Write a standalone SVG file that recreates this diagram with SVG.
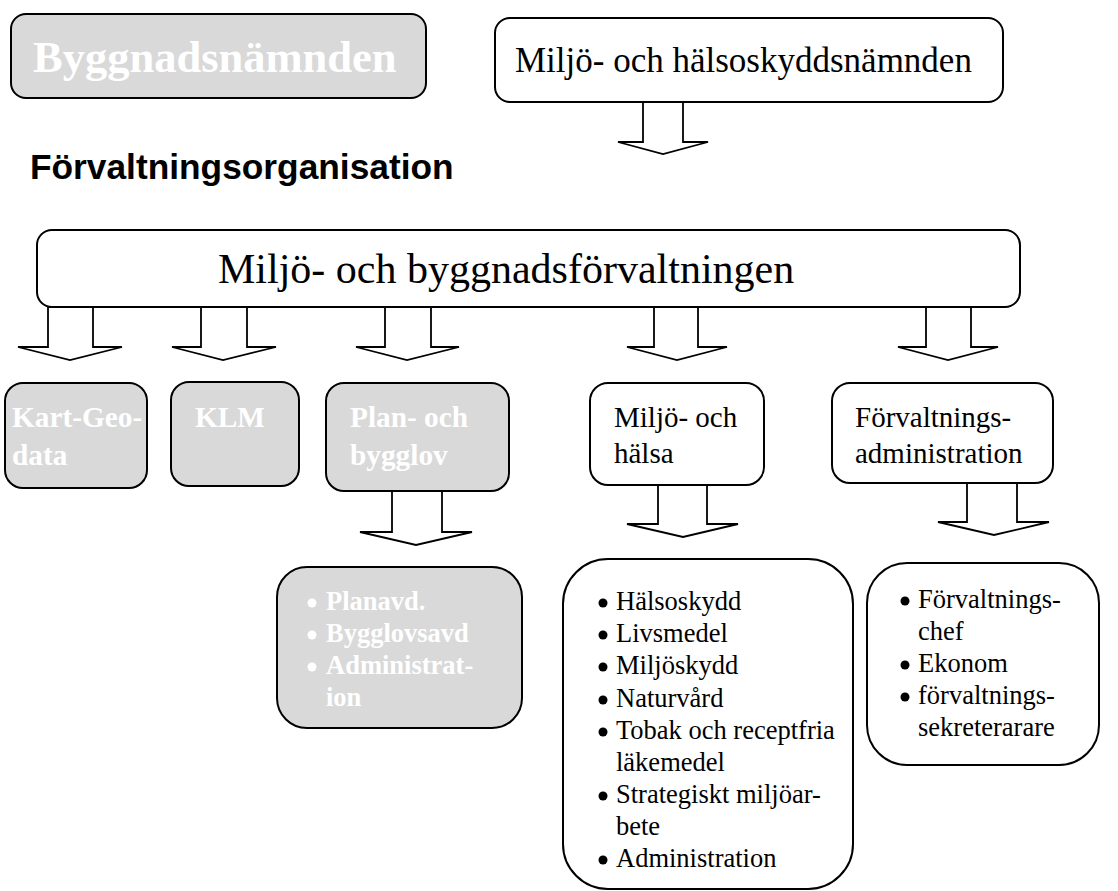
<svg xmlns="http://www.w3.org/2000/svg" width="1118" height="891" viewBox="0 0 1118 891">
<style>
.box{fill:#ffffff;stroke:#000;stroke-width:2}
.gbox{fill:#d9d9d9;stroke:#000;stroke-width:2}
.arr{fill:#ffffff;stroke:#000;stroke-width:1.8;stroke-linejoin:miter}
.t{font-family:"Liberation Serif","Times New Roman",serif;fill:#000}
.w{font-family:"Liberation Serif","Times New Roman",serif;fill:#ffffff;font-weight:bold}
.h{font-family:"Liberation Sans",Arial,sans-serif;font-weight:bold;fill:#000}
.bk{fill:#000}
.bw{fill:#ffffff}
</style>
<rect width="1118" height="891" fill="#ffffff"/>
<g id="connectors">
<polygon class="arr" points="643,102 683,102 683,142 708,142 663,154 618,142 643,142"/>
<polygon class="arr" points="48,307 93,307 93,347 122,347 70,360 18,347 48,347"/>
<polygon class="arr" points="201,307 247,307 247,347 276,347 223,360 172,347 201,347"/>
<polygon class="arr" points="385,307 431,307 431,347 459,347 407,360 356,347 385,347"/>
<polygon class="arr" points="654,307 698,307 698,347 727,347 677,360 627,347 654,347"/>
<polygon class="arr" points="926,307 971,307 971,347 998,347 948,360 898,347 926,347"/>
<polygon class="arr" points="392,491 442,491 442,532 472,532 416,545 360,532 392,532"/>
<polygon class="arr" points="658,485 707,485 707,524 738,524 683,537 627,524 658,524"/>
<polygon class="arr" points="967,483 1017,483 1017,522 1049,522 994,535 938,522 967,522"/>
</g>
<g id="byggnadsnamnden">
<rect class="gbox" x="11" y="14" width="415" height="84" rx="15"/>
<text class="w" x="33" y="72" font-size="44.5">Byggnadsnämnden</text>
</g>
<g id="miljo-halsoskyddsnamnden">
<rect class="box" x="495" y="18" width="508" height="84" rx="15"/>
<text class="t" x="515" y="72" font-size="35">Miljö- och hälsoskyddsnämnden</text>
</g>
<g id="rubrik">
<text class="h" x="30" y="179" font-size="35.3">Förvaltningsorganisation</text>
</g>
<g id="forvaltningen">
<rect class="box" x="37" y="230" width="983" height="77" rx="15"/>
<text class="t" x="218" y="283" font-size="42">Miljö- och byggnadsförvaltningen</text>
</g>
<g id="kart-geodata">
<rect class="gbox" x="5" y="383" width="142" height="105" rx="18"/>
<text class="w" x="12" y="427" font-size="29.3">Kart-Geo-</text>
<text class="w" x="12" y="465" font-size="29.3">data</text>
</g>
<g id="klm">
<rect class="gbox" x="171" y="382" width="128" height="104" rx="18"/>
<text class="w" x="195" y="427" font-size="29.3">KLM</text>
</g>
<g id="plan-bygglov">
<rect class="gbox" x="326" y="383" width="183" height="108" rx="18"/>
<text class="w" x="350" y="427" font-size="29.3">Plan- och</text>
<text class="w" x="350" y="465" font-size="29.3">bygglov</text>
</g>
<g id="miljo-halsa">
<rect class="box" x="590" y="383" width="174" height="102" rx="18"/>
<text class="t" x="614" y="427" font-size="29">Miljö- och</text>
<text class="t" x="614" y="463" font-size="29">hälsa</text>
</g>
<g id="forvaltningsadministration">
<rect class="box" x="832" y="383" width="221" height="100" rx="18"/>
<text class="t" x="855" y="427" font-size="29">Förvaltnings-</text>
<text class="t" x="855" y="463" font-size="29">administration</text>
</g>
<g id="plan-lista">
<rect class="gbox" x="277" y="567" width="245" height="161" rx="30"/>
<circle class="bw" cx="312" cy="603" r="4.5"/>
<circle class="bw" cx="312" cy="635" r="4.5"/>
<circle class="bw" cx="312" cy="667" r="4.5"/>
<g class="w" font-size="26.5">
<text x="326" y="610">Planavd.</text>
<text x="326" y="642">Bygglovsavd</text>
<text x="326" y="674">Administrat-</text>
<text x="326" y="706">ion</text>
</g>
</g>
<g id="miljo-lista">
<rect class="box" x="563" y="559" width="290" height="330" rx="45"/>
<circle class="bk" cx="603" cy="603" r="4.5"/>
<circle class="bk" cx="603" cy="635" r="4.5"/>
<circle class="bk" cx="603" cy="667" r="4.5"/>
<circle class="bk" cx="603" cy="700" r="4.5"/>
<circle class="bk" cx="603" cy="732" r="4.5"/>
<circle class="bk" cx="603" cy="796" r="4.5"/>
<circle class="bk" cx="603" cy="860" r="4.5"/>
<g class="t" font-size="26.5">
<text x="616" y="610">Hälsoskydd</text>
<text x="616" y="642">Livsmedel</text>
<text x="616" y="674">Miljöskydd</text>
<text x="616" y="707">Naturvård</text>
<text x="616" y="739">Tobak och receptfria</text>
<text x="616" y="771">läkemedel</text>
<text x="616" y="803">Strategiskt miljöar-</text>
<text x="616" y="835">bete</text>
<text x="616" y="867">Administration</text>
</g>
</g>
<g id="forvaltning-lista">
<rect class="box" x="867" y="563" width="232" height="202" rx="40"/>
<circle class="bk" cx="905" cy="601" r="4.5"/>
<circle class="bk" cx="905" cy="665" r="4.5"/>
<circle class="bk" cx="905" cy="697" r="4.5"/>
<g class="t" font-size="26.5">
<text x="918" y="608">Förvaltnings-</text>
<text x="918" y="640">chef</text>
<text x="918" y="672">Ekonom</text>
<text x="918" y="704">förvaltnings-</text>
<text x="918" y="736">sekreterarare</text>
</g>
</g>
</svg>
